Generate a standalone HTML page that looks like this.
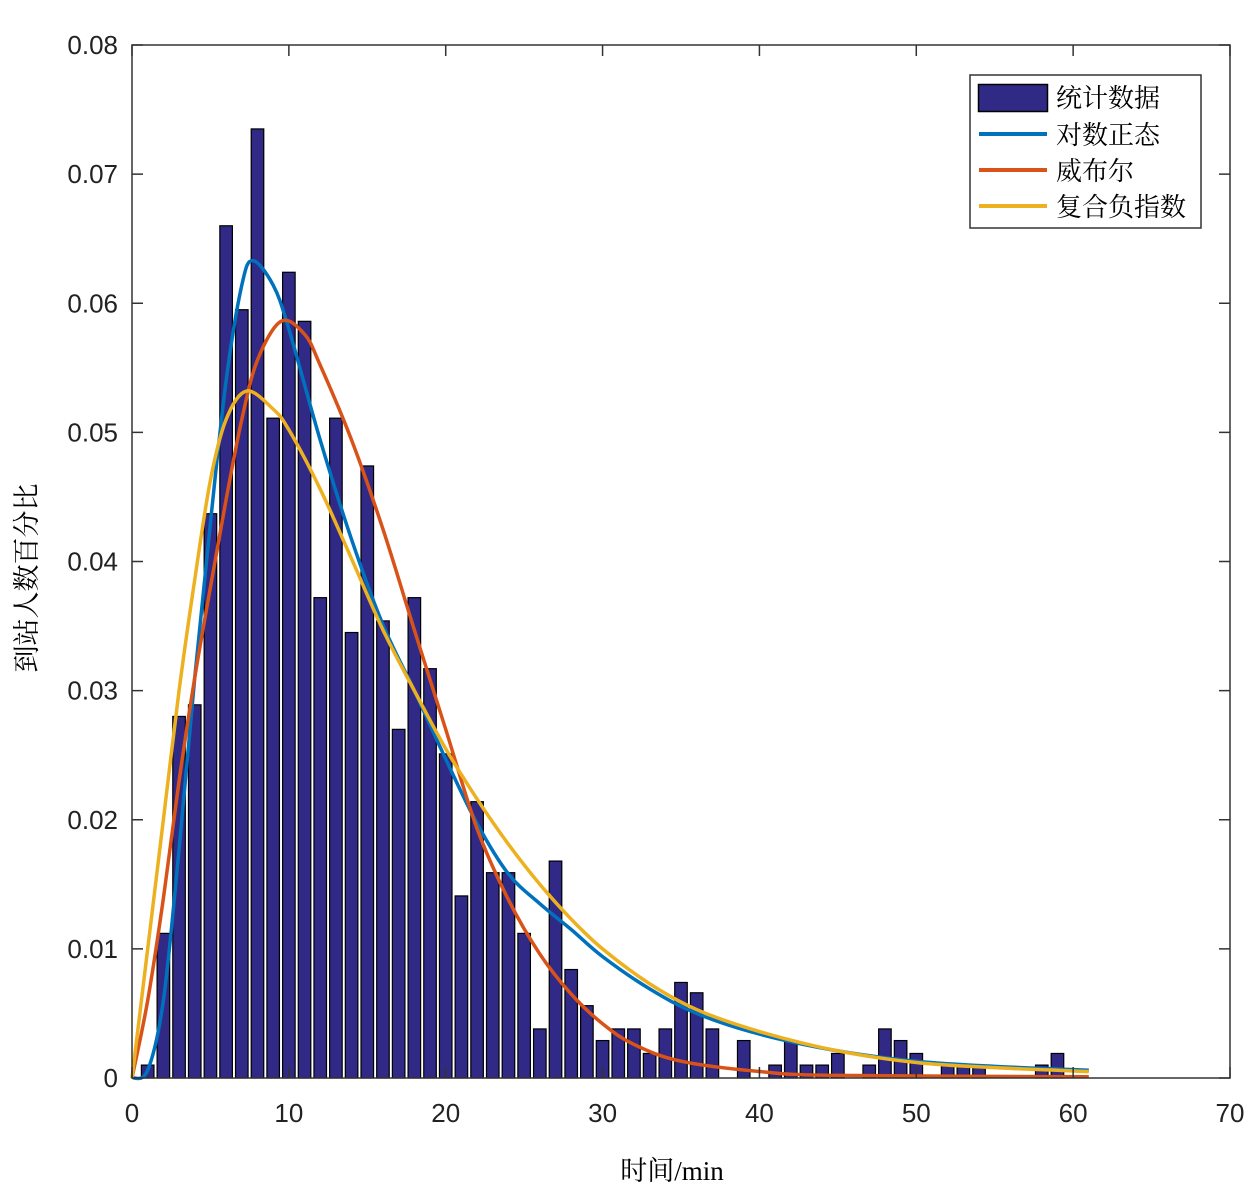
<!DOCTYPE html>
<html><head><meta charset="utf-8"><style>
body{margin:0;background:#fff;}
svg text{font-family:"Liberation Sans",Arial,sans-serif;}
.cjk{font-family:"Liberation Serif","Noto Serif CJK SC",serif;}
</style></head><body>
<svg id="chart" width="1260" height="1196" viewBox="0 0 1260 1196" xmlns="http://www.w3.org/2000/svg">
<rect width="1260" height="1196" fill="#fff"/>
<g id="bars"></g>
<g id="curves"></g>
<g id="axes"></g>
<text class="cjk" x="672" y="1180" font-size="27" text-anchor="middle">时间/min</text>
<text class="cjk" transform="translate(36,578) rotate(-90)" font-size="27" text-anchor="middle">到站人数百分比</text>
<g>
<rect x="970" y="75" width="231" height="153" fill="#fff" stroke="#333" stroke-width="1.5"/>
<g><rect x="978.5" y="84.5" width="69" height="27" fill="#312986" stroke="#000" stroke-width="1.5"/><text class="cjk" x="1056" y="107" font-size="26">统计数据</text></g>
<g><line x1="979" y1="134" x2="1047" y2="134" stroke="#0072BD" stroke-width="4"/><text class="cjk" x="1056" y="144" font-size="26">对数正态</text></g>
<g><line x1="979" y1="170" x2="1047" y2="170" stroke="#D95319" stroke-width="4"/><text class="cjk" x="1056" y="180" font-size="26">威布尔</text></g>
<g><line x1="979" y1="206" x2="1047" y2="206" stroke="#EDB120" stroke-width="4"/><text class="cjk" x="1056" y="216" font-size="26">复合负指数</text></g>
</g>
</svg>
<script>
const binCenters=[1,2,3,4,5,6,7,8,9,10,11,12,13,14,15,16,17,18,19,20,21,22,23,24,25,26,27,28,29,30,31,32,33,34,35,36,37,39,41,42,43,44,45,47,48,49,50,52,53,54,58,59];
const binValues=[0.001,0.0112,0.028,0.0289,0.0437,0.066,0.0595,0.0735,0.0511,0.0624,0.0586,0.0372,0.0511,0.0345,0.0474,0.0354,0.027,0.0372,0.0317,0.0251,0.0141,0.0214,0.0159,0.0159,0.0112,0.0038,0.0168,0.0084,0.0056,0.0029,0.0038,0.0038,0.0019,0.0038,0.0074,0.0066,0.0038,0.0029,0.001,0.0029,0.001,0.001,0.0019,0.001,0.0038,0.0029,0.0019,0.001,0.001,0.001,0.001,0.0019];
const logX=[0,1,2,3,4,5,6,7,7.7,9,10,12,14,16,18,20,22,24,26,28,30,33,36,40,45,50,55,61];
const logY=[0,0.0006,0.006,0.0177,0.031,0.043,0.054,0.0614,0.0633,0.0614,0.058,0.0494,0.0417,0.0351,0.030,0.0247,0.0197,0.0158,0.0135,0.0115,0.0094,0.0069,0.005,0.0034,0.0021,0.0013,0.0009,0.0006];
const wblX=[0,1,2,3,4,5,6,7,8,9.5,11,12,14,16,18,20,22,24,26,28,30,32,35,40,45,61];
const wblY=[0,0.006,0.0139,0.023,0.031,0.038,0.0448,0.051,0.0556,0.0586,0.0576,0.0552,0.0494,0.0425,0.0347,0.027,0.0193,0.0138,0.0096,0.0065,0.0042,0.0026,0.0013,0.0005,0.0002,0.0001];
const expX=[0,1,2,3,4,5,6,7.3,9,10,12,14,16,18,20,22,24,26,28,30,33,36,40,45,50,55,61];
const expY=[0,0.010,0.020,0.030,0.0386,0.0463,0.051,0.0532,0.0518,0.0502,0.0456,0.0402,0.0347,0.030,0.0255,0.0216,0.0181,0.015,0.0123,0.010,0.0073,0.0053,0.0036,0.0021,0.0012,0.0008,0.0005];
const xTicks=[0,10,20,30,40,50,60,70];
const yTicks=[0,0.01,0.02,0.03,0.04,0.05,0.06,0.07,0.08];
const yTickLabels=["0","0.01","0.02","0.03","0.04","0.05","0.06","0.07","0.08"];

const NS="http://www.w3.org/2000/svg";
const L=132,R=1230,T=45,B=1078;
const sx=v=>L+v/70*(R-L);
const sy=v=>B-v/0.08*(B-T);
function mk(tag,attrs,parent){const e=document.createElementNS(NS,tag);for(const k in attrs)e.setAttribute(k,attrs[k]);parent.appendChild(e);return e;}
const bars=document.getElementById('bars');
binCenters.forEach((c,i)=>{
  const w=sx(0.8)-sx(0);
  const r=mk('rect',{x:sx(c)-w/2,y:sy(binValues[i]),width:w,height:sy(0)-sy(binValues[i]),fill:'#312986',stroke:'#000','stroke-width':1.2},bars);
  
  
});
function curve(xs,ys,color,name){
  const p=xs.map((x,i)=>[sx(x),sy(ys[i])]);
  let d='M'+p[0][0]+','+p[0][1];
  for(let i=0;i<p.length-1;i++){
    const p0=p[Math.max(0,i-1)],p1=p[i],p2=p[i+1],p3=p[Math.min(p.length-1,i+2)];
    const c1=[p1[0]+(p2[0]-p0[0])/6,p1[1]+(p2[1]-p0[1])/6];
    const c2=[p2[0]-(p3[0]-p1[0])/6,p2[1]-(p3[1]-p1[1])/6];
    d+=' C'+c1+' '+c2+' '+p2;
  }
  const e=mk('path',{d:d,fill:'none',stroke:color,'stroke-width':3.5},document.getElementById('curves'));
  
  
}
curve(logX,logY,'#0072BD','lognormal-curve');
curve(wblX,wblY,'#D95319','weibull-curve');
curve(expX,expY,'#EDB120','composite-exp-curve');
const ax=document.getElementById('axes');
const box=mk('rect',{x:L,y:T,width:R-L,height:B-T,fill:'none',stroke:'#333','stroke-width':1.5},ax);


xTicks.forEach(t=>{
  mk('line',{x1:sx(t),y1:B,x2:sx(t),y2:B-11,stroke:'#333','stroke-width':1.5},ax);
  mk('line',{x1:sx(t),y1:T,x2:sx(t),y2:T+11,stroke:'#333','stroke-width':1.5},ax);
  const tx=mk('text',{x:sx(t),y:1122,'font-size':26,'text-anchor':'middle',fill:'#222'},ax);
  tx.textContent=String(t);
  
  
});
yTicks.forEach((t,i)=>{
  mk('line',{x1:L,y1:sy(t),x2:L+11,y2:sy(t),stroke:'#333','stroke-width':1.5},ax);
  mk('line',{x1:R,y1:sy(t),x2:R-11,y2:sy(t),stroke:'#333','stroke-width':1.5},ax);
  const tx=mk('text',{x:118,y:sy(t)+9,'font-size':26,'text-anchor':'end',fill:'#222'},ax);
  tx.textContent=yTickLabels[i];
  
  
});
</script>
</body></html>
